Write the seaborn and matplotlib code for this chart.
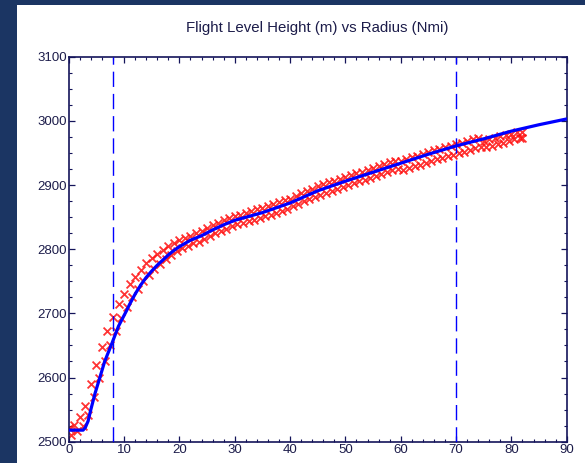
import numpy as np
import pandas as pd
import matplotlib
matplotlib.use("Agg")
import matplotlib.pyplot as plt
from matplotlib.patches import Rectangle
from matplotlib.ticker import MultipleLocator
import seaborn as sns

# ---- data ----
blue_x = [0, 1, 2, 2.6, 3, 3.5, 4, 4.75, 5.7, 6.5, 7.8, 9, 10.5, 11, 12, 13, 14, 15,
          16, 17, 18, 19, 20, 21, 22, 24, 26, 28, 30, 35, 40, 45, 50, 55, 60, 65, 70,
          75, 80, 85, 90]
blue_y = [2518, 2518, 2518, 2518, 2522, 2532, 2550, 2575, 2602, 2625, 2653, 2680, 2705,
          2714, 2730, 2744, 2756, 2766, 2775, 2783, 2791, 2798, 2804, 2809, 2814, 2821,
          2830, 2838, 2845, 2857, 2872, 2891, 2906, 2920, 2934, 2948, 2961, 2972, 2984,
          2994, 3003]

red_hi_x = list(range(0, 83))
red_hi = [2522, 2526, 2538, 2556, 2590, 2620, 2648, 2672, 2695, 2714, 2730, 2745, 2757,
          2768, 2778, 2786, 2793, 2799, 2805, 2810, 2815,
          2817, 2821, 2825, 2828, 2833, 2837, 2841, 2845, 2848, 2852, 2854, 2857, 2859,
          2862, 2864, 2867, 2870, 2873, 2876, 2879, 2883, 2887, 2891, 2894, 2898, 2901,
          2904, 2907, 2910, 2913, 2916, 2919, 2921, 2924, 2927, 2930, 2933, 2936, 2938,
          2937, 2940, 2943, 2946, 2948, 2951, 2954, 2956, 2959, 2961, 2964, 2966, 2968,
          2971, 2973,
          2969, 2971, 2974, 2976, 2978, 2980, 2982, 2983]
red_lo_x = [v + 0.5 for v in range(0, 82)] + [82]
red_lo = [2510, 2516, 2525, 2542, 2570, 2600, 2625, 2650, 2673, 2693, 2710, 2725, 2738,
          2750, 2760, 2769, 2777, 2784, 2791, 2797, 2802,
          2805, 2809, 2812, 2816, 2821, 2825, 2829, 2832, 2836, 2839, 2841, 2844, 2846,
          2849, 2851, 2854, 2857, 2860, 2863, 2867, 2871, 2875, 2878, 2882, 2885, 2888,
          2891, 2894, 2897, 2900, 2903, 2906, 2908, 2911, 2914, 2917, 2920, 2923, 2925,
          2923, 2926, 2929, 2932, 2934, 2937, 2940, 2942, 2945, 2947, 2950, 2952, 2954,
          2957, 2959,
          2959, 2961, 2964, 2966, 2968, 2971, 2973, 2974]

vlines_x = [8, 70]
x_ticks = [0, 10, 20, 30, 40, 50, 60, 70, 80, 90]
y_ticks = [2500, 2600, 2700, 2800, 2900, 3000, 3100]
title = "Flight Level Height (m) vs Radius (Nmi)"

# ---- style ----
sns.set_style("white")
plt.rcParams['font.family'] = ['Liberation Sans', 'DejaVu Sans']

navy_bg = "#1b3563"
text_c = "#1c1c4a"
axis_c = "#14145a"

fig = plt.figure(figsize=(5.85, 4.63), dpi=100)
fig.patch.set_facecolor(navy_bg)
# white panel
panel = Rectangle((17 / 585, 0), 1 - 17 / 585, (463 - 5) / 463,
                  transform=fig.transFigure, facecolor="white",
                  edgecolor="none", zorder=-10)
fig.patches.append(panel)

ax = fig.add_axes([68.7 / 585, (463 - 441.7) / 463, (566.7 - 68.7) / 585,
                   (441.7 - 56.7) / 463])
ax.set_zorder(5)
ax.set_facecolor("white")

red_df = pd.DataFrame({"x": red_hi_x + red_lo_x, "y": red_hi + red_lo})
sns.scatterplot(data=red_df, x="x", y="y", marker="x", s=32, color="#ff1010",
                linewidth=1.3, alpha=0.85, ax=ax, zorder=2, legend=False)

blue_df = pd.DataFrame({"x": blue_x, "y": blue_y})
sns.lineplot(data=blue_df, x="x", y="y", color="#0000ff", linewidth=2.3, ax=ax,
             zorder=3, sort=False, estimator=None)

for vx in vlines_x:
    ax.axvline(vx, color="#0000ff", linewidth=1.0, dashes=(11, 5), zorder=4)

ax.set_xlim(0, 90)
ax.set_ylim(2500, 3100)
ax.set_xticks(x_ticks)
ax.set_yticks(y_ticks)
ax.set_xticklabels([str(t) for t in x_ticks])
ax.set_yticklabels([str(t) for t in y_ticks])
ax.xaxis.set_minor_locator(MultipleLocator(2))
ax.yaxis.set_minor_locator(MultipleLocator(25))
ax.tick_params(which="both", direction="in", top=True, right=True,
               bottom=True, left=True, color=axis_c, labelcolor=text_c)
ax.tick_params(which="major", length=4, width=0.9, labelsize=9.5, pad=1.5)
ax.tick_params(which="minor", length=2.5, width=0.8)
ax.set_xlabel("")
ax.set_ylabel("")
for s in ax.spines.values():
    s.set_color(axis_c)
    s.set_linewidth(1.2)
    s.set_visible(True)

fig.text((68.7 + 566.7) / 2 / 585, 1 - 28 / 463, title, ha="center", va="center",
         fontsize=10.8, color=text_c)

fig.savefig("out.png", dpi=100, facecolor=fig.get_facecolor())
